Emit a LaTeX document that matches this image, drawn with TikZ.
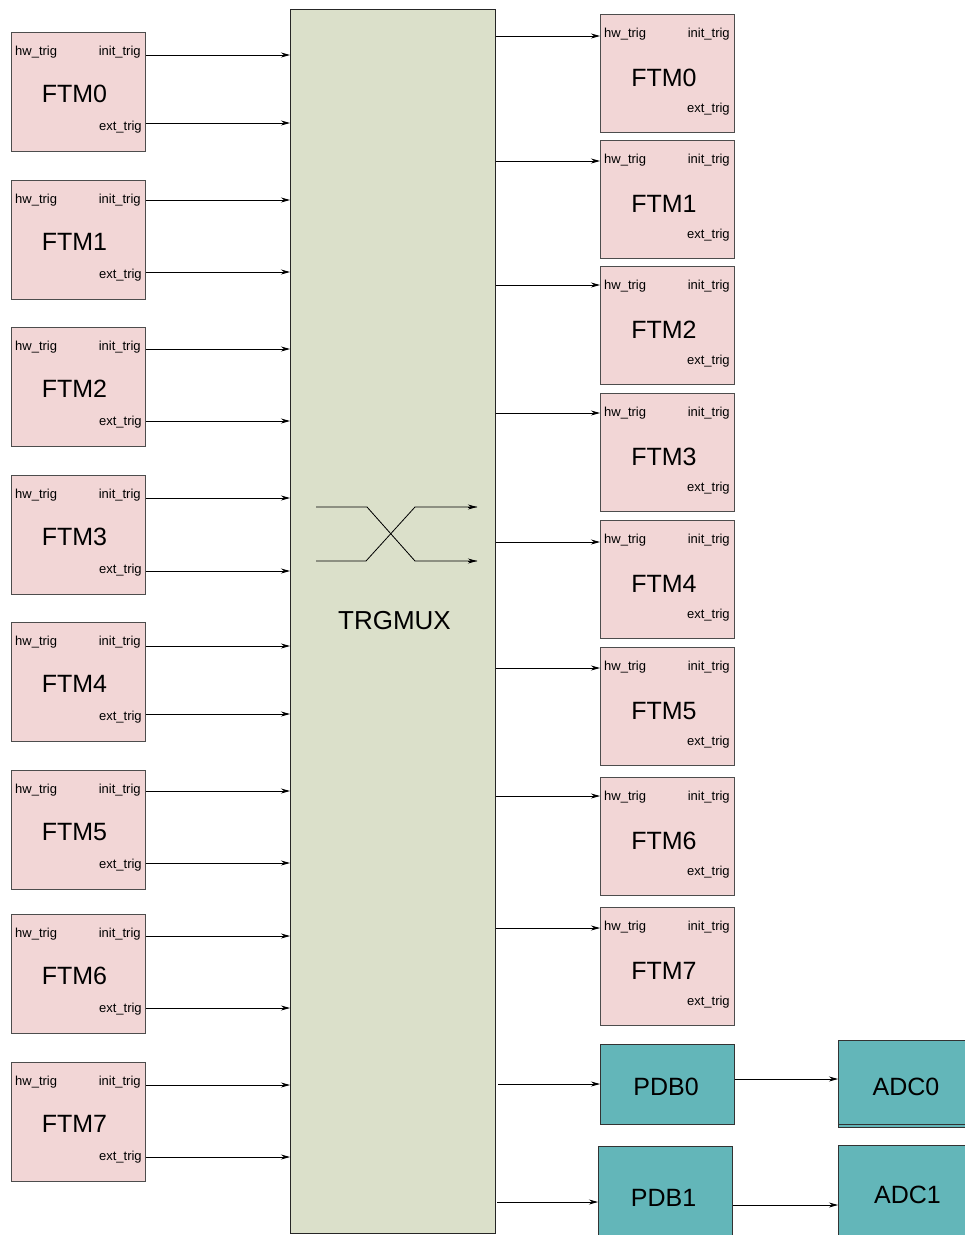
\documentclass[tikz,border=0pt]{standalone}
\usepackage{fontspec}
\setmainfont{Liberation Sans}
\usetikzlibrary{arrows.meta,calc}
\definecolor{ftmpink}{HTML}{F2D6D6}
\definecolor{muxgreen}{HTML}{DBE0CA}
\definecolor{tealbox}{HTML}{63B6B9}
\definecolor{boxedge}{HTML}{4D4D4D}
\tikzset{
  ftmbox/.style={draw=boxedge, fill=ftmpink, line width=0.9pt, minimum width=134pt, minimum height=119pt, inner sep=0pt, anchor=north west},
  muxbox/.style={draw=black!85, fill=muxgreen, line width=0.9pt, minimum width=205pt, minimum height=1224pt, inner sep=0pt, anchor=north west},
  tbox/.style={draw=black!80, fill=tealbox, line width=1pt, inner sep=0pt, anchor=north west},
  smalltxt/.style={font=\fontsize{13}{13}\selectfont, inner sep=0pt},
  bigtxt/.style={font=\fontsize{25}{25}\selectfont, inner sep=0pt, anchor=base},
  arr/.style={-{Stealth[length=9pt,width=5pt]}, line width=0.8pt},
  thin/.style={line width=0.8pt}
}
\begin{document}
\begin{tikzpicture}[x=1pt,y=-1pt]
\useasboundingbox (0,0) rectangle (965,1235);
\clip (0,0) rectangle (965,1235);

% TRGMUX
\node[muxbox] (mux) at (290,9) {};
\node[font=\fontsize{26}{26}\selectfont, inner sep=0pt, anchor=base] (muxlbl) at (394.5,629) {TRGMUX};
\coordinate (c1) at (316,507);
\coordinate (c2) at (316,561);
\draw[thin] (c1) -- (367,507) -- (415,561) -- (477,561);
\draw[arr] (468,561) -- (477,561);
\draw[thin] (c2) -- (366,561) -- (415,507) -- (477,507);
\draw[arr] (468,507) -- (477,507);

% Left FTM boxes
\foreach \i/\t/\a/\b in {0/32/23/91, 1/180/20/92, 2/327/22/94, 3/475/23/96, 4/622/24/92, 5/770/21/93, 6/914/22/94, 7/1062/23/95} {
  \node[ftmbox] (L\i) at (11,\t) {};
  \node[smalltxt, anchor=base west] (L\i hw) at ([xshift=4pt,yshift=-23.5pt]L\i.north west) {hw\_trig};
  \node[smalltxt, anchor=base east] (L\i init) at ([xshift=-5pt,yshift=-23.5pt]L\i.north east) {init\_trig};
  \node[smalltxt, anchor=base east] (L\i ext) at ([xshift=-4pt,yshift=-98pt]L\i.north east) {ext\_trig};
  \node[bigtxt] (L\i name) at ([xshift=-4pt,yshift=-70pt]L\i.north) {FTM\i};
  \coordinate (L\i a) at ([yshift=-\a pt]L\i.north east);
  \coordinate (L\i b) at ([yshift=-\b pt]L\i.north east);
  \draw[arr] (L\i a) -- (L\i a -| mux.west);
  \draw[arr] (L\i b) -- (L\i b -| mux.west);
}

% Right FTM boxes
\foreach \i/\t/\a in {0/14/22, 1/140/21, 2/266/19, 3/393/20, 4/520/22, 5/647/21, 6/777/19, 7/907/21} {
  \node[ftmbox, minimum height=118pt] (R\i) at (600,\t) {};
  \node[smalltxt, anchor=base west] (R\i hw) at ([xshift=4pt,yshift=-23pt]R\i.north west) {hw\_trig};
  \node[smalltxt, anchor=base east] (R\i init) at ([xshift=-5pt,yshift=-23pt]R\i.north east) {init\_trig};
  \node[smalltxt, anchor=base east] (R\i ext) at ([xshift=-5pt,yshift=-98pt]R\i.north east) {ext\_trig};
  \node[bigtxt] (R\i name) at ([xshift=-3.5pt,yshift=-72pt]R\i.north) {FTM\i};
  \coordinate (R\i a) at ([yshift=-\a pt]R\i.north west);
  \draw[arr] (R\i a -| mux.east) -- (R\i a);
}

% PDB and ADC
\node[tbox, minimum width=134pt, minimum height=80pt] (PDB0) at (600,1044) {};
\node[bigtxt] (PDB0l) at (666,1095) {PDB0};
\node[tbox, minimum width=136pt, minimum height=84pt] (ADC0s) at (838,1043) {};
\node[tbox, minimum width=136pt, minimum height=84pt] (ADC0) at (838,1040) {};
\node[bigtxt] (ADC0l) at (906,1095) {ADC0};
\node[tbox, minimum width=134pt, minimum height=100pt] (PDB1) at (598,1146) {};
\node[bigtxt] (PDB1l) at (663.5,1206) {PDB1};
\node[tbox, minimum width=140pt, minimum height=100pt] (ADC1) at (838,1145) {};
\node[bigtxt] (ADC1l) at (907.5,1203) {ADC1};

\coordinate (p0in) at (498,1084);
\draw[arr] (p0in) -- (p0in -| PDB0.west);
\coordinate (p1in) at (497,1202);
\draw[arr] (p1in) -- (p1in -| PDB1.west);
\coordinate (a0in) at (734,1079);
\draw[arr] (a0in -| PDB0.east) -- (a0in -| ADC0.west);
\coordinate (a1in) at (732,1205);
\draw[arr] (a1in -| PDB1.east) -- (a1in -| ADC1.west);
\end{tikzpicture}
\end{document}
